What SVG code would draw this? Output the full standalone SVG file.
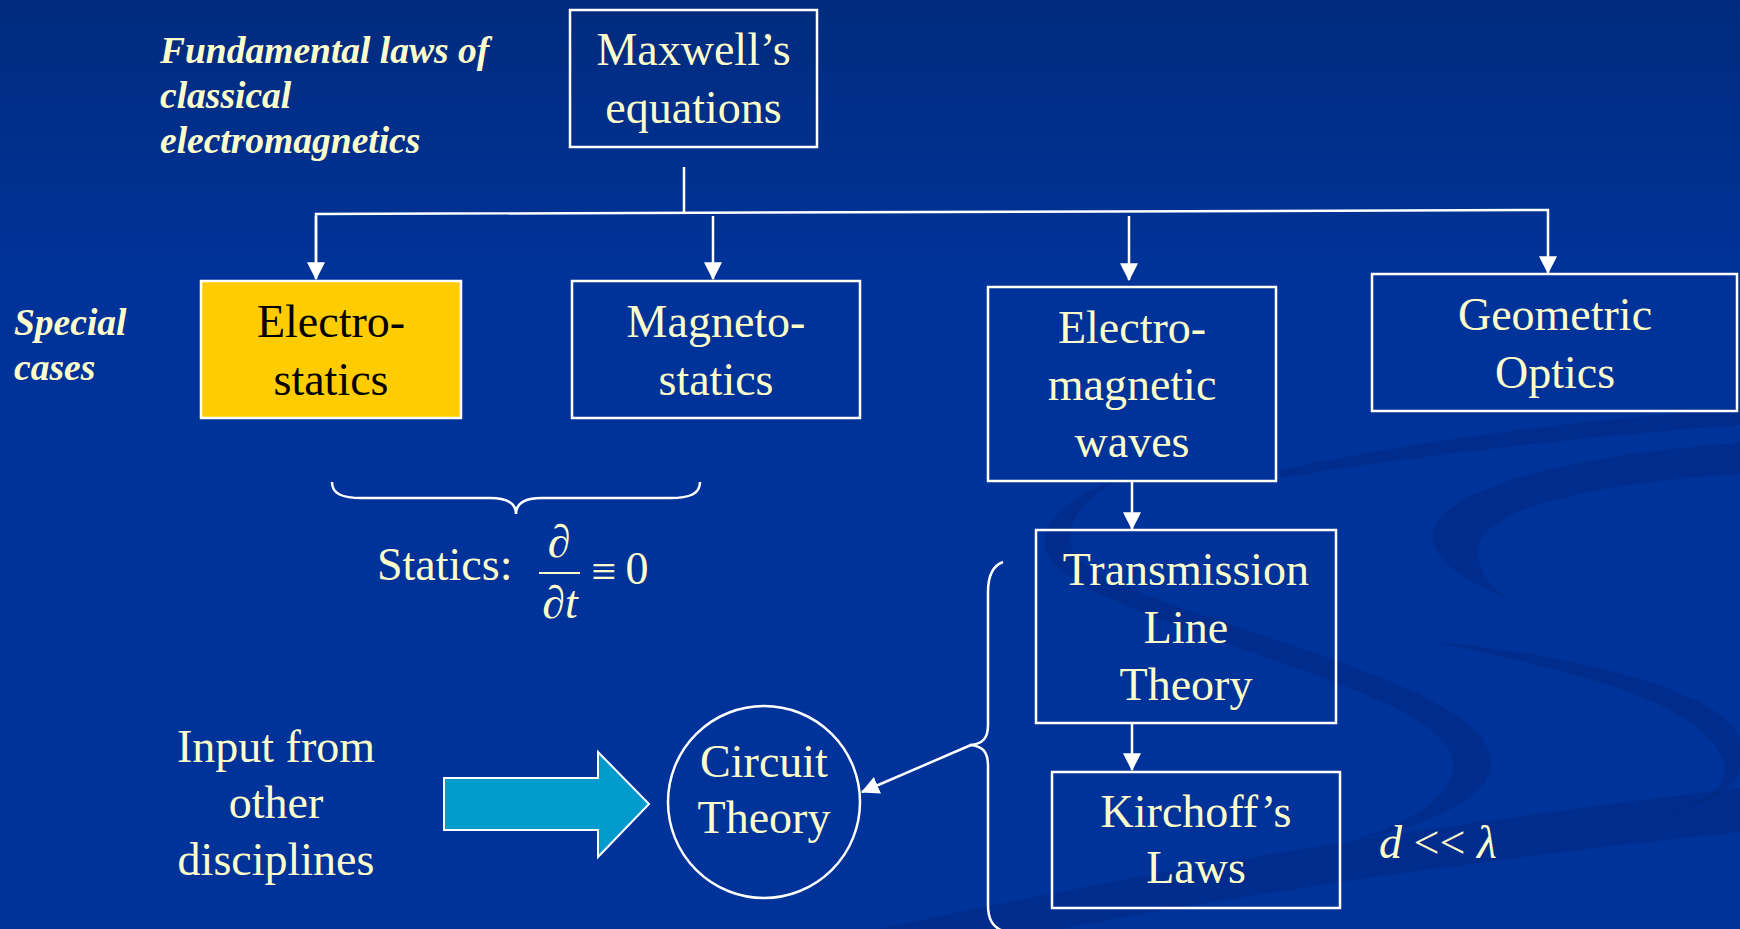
<svg xmlns="http://www.w3.org/2000/svg" width="1740" height="929" viewBox="0 0 1740 929">
<defs>
<linearGradient id="bg" x1="0" y1="0" x2="0" y2="1">
<stop offset="0" stop-color="#002B7E"/>
<stop offset="0.3" stop-color="#003399"/>
<stop offset="1" stop-color="#003399"/>
</linearGradient>
<marker id="ah" markerUnits="userSpaceOnUse" markerWidth="18" markerHeight="18" viewBox="0 0 16 16" refX="15" refY="8" orient="auto">
<path d="M0,0 L16,8 L0,16 Z" fill="#FFFFFF"/>
</marker>
<style>
.t{font-family:"Liberation Serif","Times New Roman",serif;font-size:46px;fill:#FFFFCC;text-anchor:middle}
.lab{font-family:"Liberation Serif","Times New Roman",serif;font-size:37.5px;font-style:italic;font-weight:bold;fill:#FFFFCC}
.box{fill:none;stroke:#FFFFFF;stroke-width:2.5}
.ln{fill:none;stroke:#FFFFFF;stroke-width:2.5}
.sw{fill:#00267A;opacity:0.4}
</style>
</defs>
<rect x="0" y="0" width="1740" height="929" fill="url(#bg)"/>
<g id="swirls">
<path class="sw" d="M1740,443 C1560,455 1450,490 1434,527 C1425,555 1460,580 1505,597 C1480,578 1472,556 1482,538 C1502,505 1600,483 1740,474 Z"/>
<path class="sw" d="M1121,478 C1070,495 1038,522 1046,550 C1058,592 1200,632 1318,676 C1418,712 1462,742 1452,775 C1442,805 1400,825 1350,842 C1420,828 1484,802 1490,770 C1498,732 1446,700 1340,662 C1222,618 1082,584 1072,548 C1064,520 1088,496 1121,478 Z"/>
<path class="sw" d="M1429,641 C1560,668 1700,700 1722,758 C1734,790 1700,805 1648,817 C1722,804 1752,782 1740,738 C1720,690 1580,656 1429,641 Z"/>
<path class="sw" d="M880,929 C1100,880 1400,828 1740,788 L1740,832 C1450,862 1200,902 1060,929 Z"/>
<path class="sw" d="M1280,470 C1420,440 1580,420 1740,408 L1740,425 C1580,437 1420,455 1280,478 Z" opacity="0.2"/>
</g>
<g id="labels">
<text class="lab" x="160" y="63">Fundamental laws of</text>
<text class="lab" x="160" y="108">classical</text>
<text class="lab" x="160" y="153">electromagnetics</text>
<text class="lab" x="14" y="335">Special</text>
<text class="lab" x="14" y="380">cases</text>
</g>
<g id="connectors">
<line class="ln" x1="684" y1="167" x2="684" y2="213"/>
<polyline class="ln" points="316,278 316,214 1548,210 1548,273" marker-end="url(#ah)"/>
<line class="ln" x1="316" y1="216" x2="316" y2="279" marker-end="url(#ah)"/>
<line class="ln" x1="713" y1="216" x2="713" y2="279" marker-end="url(#ah)"/>
<line class="ln" x1="1129" y1="216" x2="1129" y2="280" marker-end="url(#ah)"/>
<line class="ln" x1="1132" y1="481" x2="1132" y2="529" marker-end="url(#ah)"/>
<line class="ln" x1="1132" y1="724" x2="1132" y2="770" marker-end="url(#ah)"/>
<line class="ln" x1="971" y1="745" x2="862" y2="792" marker-end="url(#ah)"/>
<path class="ln" d="M332,482 C332,494 342,498 362,498 L490,498 C508,498 516,504 516,514 C516,504 524,498 542,498 L670,498 C690,498 700,494 700,482"/>
<path class="ln" d="M1003,562 C992,566 988,576 988,592 L988,725 C988,738 983,744 970,745 C983,746 988,752 988,766 L988,905 C988,920 993,927 1003,931"/>
</g>
<g id="maxwell">
<rect class="box" x="570" y="10" width="247" height="137"/>
<text class="t" x="693.5" y="65">Maxwell’s</text>
<text class="t" x="693.5" y="123">equations</text>
</g>
<g id="electrostatics">
<rect x="201" y="281" width="260" height="137" fill="#FFCC00" stroke="#FFFFFF" stroke-width="2.5"/>
<text class="t" x="331" y="337" style="fill:#000000">Electro-</text>
<text class="t" x="331" y="395" style="fill:#000000">statics</text>
</g>
<g id="magnetostatics">
<rect class="box" x="572" y="281" width="288" height="137"/>
<text class="t" x="716" y="337">Magneto-</text>
<text class="t" x="716" y="395">statics</text>
</g>
<g id="emwaves">
<rect class="box" x="988" y="287" width="288" height="194"/>
<text class="t" x="1132" y="343">Electro-</text>
<text class="t" x="1132" y="400">magnetic</text>
<text class="t" x="1132" y="457">waves</text>
</g>
<g id="optics">
<rect class="box" x="1372" y="274" width="365" height="137"/>
<text class="t" x="1555" y="330">Geometric</text>
<text class="t" x="1555" y="388">Optics</text>
</g>
<g id="statics">
<text class="t" x="377" y="580" style="text-anchor:start">Statics:</text>
<text class="t" x="559" y="557" style="font-style:italic">∂</text>
<line x1="539" y1="573" x2="580" y2="573" stroke="#FFFFCC" stroke-width="2"/>
<text class="t" x="560" y="618" style="font-style:italic">∂t</text>
<text class="t" x="604" y="586" style="font-size:44px">≡</text>
<text class="t" x="637" y="584">0</text>
</g>
<g id="tlt">
<rect class="box" x="1036" y="530" width="300" height="193"/>
<text class="t" x="1186" y="585">Transmission</text>
<text class="t" x="1186" y="643">Line</text>
<text class="t" x="1186" y="700">Theory</text>
</g>
<g id="kirchoff">
<rect class="box" x="1052" y="772" width="288" height="136"/>
<text class="t" x="1196" y="827">Kirchoff’s</text>
<text class="t" x="1196" y="883">Laws</text>
</g>
<g id="condition">
<text class="t" x="1379" y="858" style="text-anchor:start"><tspan font-style="italic">d</tspan> &lt;&lt; <tspan font-style="italic">λ</tspan></text>
</g>
<g id="input">
<text class="t" x="276" y="762">Input from</text>
<text class="t" x="276" y="818">other</text>
<text class="t" x="276" y="875">disciplines</text>
<polygon points="444,778 598,778 598,752 649,804 598,857 598,830 444,830" fill="#009ACC" stroke="#FFFFFF" stroke-width="2"/>
</g>
<g id="circuit">
<circle cx="764" cy="802" r="96" fill="none" stroke="#FFFFFF" stroke-width="2.5"/>
<text class="t" x="764" y="777">Circuit</text>
<text class="t" x="764" y="833">Theory</text>
</g>
</svg>
